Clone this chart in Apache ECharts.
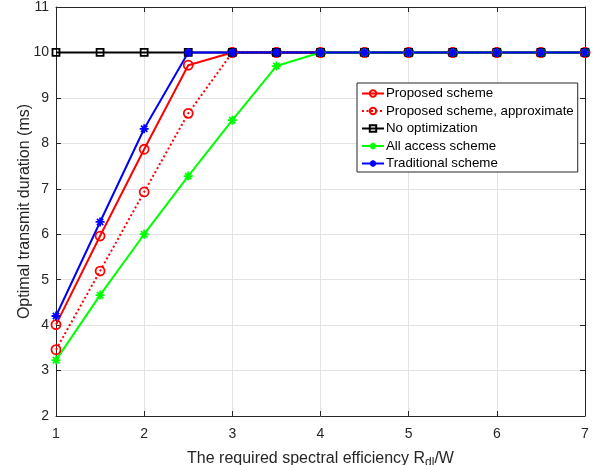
<!DOCTYPE html>
<html>
<head>
<meta charset="utf-8">
<script src="https://cdn.jsdelivr.net/npm/echarts@6/dist/echarts.min.js"></script>
<style>
  html, body { margin: 0; padding: 0; background: #fff; }
  #chart { width: 595px; height: 465px; }
</style>
</head>
<body>
<div id="chart"></div>
<script>
// spectral efficiency samples
var xValues = [1, 1.5, 2, 2.5, 3, 3.5, 4, 4.5, 5, 5.5, 6, 6.5, 7];

var proposed = [4.01, 5.96, 7.87, 9.72, 10, 10, 10, 10, 10, 10, 10, 10, 10];
var approx = [3.46, 5.19, 6.93, 8.66, 10, 10, 10, 10, 10, 10, 10, 10, 10];
var noOpt = [10, 10, 10, 10, 10, 10, 10, 10, 10, 10, 10, 10, 10];
var allAccess = [3.23, 4.66, 6.0, 7.28, 8.51, 9.7, 10, 10, 10, 10, 10, 10, 10];
var traditional = [4.2, 6.27, 8.32, 10, 10, 10, 10, 10, 10, 10, 10, 10, 10];

var xTicks = [1, 2, 3, 4, 5, 6, 7];
var yTicks = [2, 3, 4, 5, 6, 7, 8, 9, 10, 11];

var asterisk = 'path://M0,-10L0,10M-10,0L10,0M-7,-7L7,7M-7,7L7,-7';
var txt = '#262626';
var font = 'Liberation Sans';

function pairs(ys) {
  return xValues.map(function (x, i) { return [x, ys[i]]; });
}

function mkSeries(name, ys, color, symbol, size, dashed) {
  return {
    name: name,
    type: 'line',
    data: pairs(ys),
    symbol: symbol,
    symbolSize: size,
    color: color,
    lineStyle: { color: color, width: 2, type: dashed ? [2, 2.5] : 'solid' },
    itemStyle: { color: 'rgba(0,0,0,0)', borderColor: color, borderWidth: 1.8 },
    emphasis: { disabled: true },
    animation: false
  };
}

var chart = echarts.init(document.getElementById('chart'));

var axisCommon = {
  type: 'value',
  axisLine: { show: true, lineStyle: { color: txt, width: 1 } },
  axisTick: { show: true, inside: true, length: 5, lineStyle: { color: txt } }
};

chart.setOption({
  backgroundColor: '#fff',
  textStyle: { fontFamily: font },
  grid: { left: 56, right: 10, top: 7, bottom: 49, outerBoundsMode: 'none', containLabel: false },
  legend: {
    orient: 'vertical',
    left: 357,
    top: 83,
    padding: [4, 4, 2, 4],
    itemWidth: 22,
    itemHeight: 8,
    itemGap: 4.5,
    borderColor: txt,
    borderWidth: 1,
    backgroundColor: '#fff',
    textStyle: { fontSize: 13.3, color: '#000', fontFamily: font, padding: [0, 0, 0, -3] },
    data: ['Proposed scheme', 'Proposed scheme, approximate', 'No optimization', 'All access scheme', 'Traditional scheme']
  },
  xAxis: [
    Object.assign({}, axisCommon, {
      min: 1, max: 7, interval: 1,
      name: 'The required spectral efficiency R{sub|dl}/W',
      nameLocation: 'middle',
      nameGap: 32,
      nameMoveOverlap: false,
      nameTextStyle: {
        fontSize: 16, color: txt, fontFamily: font,
        rich: { sub: { fontSize: 12, verticalAlign: 'bottom', padding: [9, 0, 0, 0], fontFamily: font, color: txt } }
      },
      axisLabel: { fontSize: 14, color: txt, margin: 11, fontFamily: font },
      splitLine: { show: true, lineStyle: { color: '#e3e3e3' } }
    }),
    Object.assign({}, axisCommon, {
      min: 1, max: 7, interval: 1, position: 'top',
      axisLabel: { show: false },
      splitLine: { show: false }
    })
  ],
  yAxis: [
    Object.assign({}, axisCommon, {
      min: 2, max: 11, interval: 1,
      name: 'Optimal transmit duration (ms)',
      nameLocation: 'middle',
      nameGap: 23,
      nameMoveOverlap: false,
      nameTextStyle: { fontSize: 16, color: txt, fontFamily: font },
      axisLabel: { fontSize: 14, color: txt, margin: 7, fontFamily: font },
      splitLine: { show: true, lineStyle: { color: '#e3e3e3' } }
    }),
    Object.assign({}, axisCommon, {
      min: 2, max: 11, interval: 1, position: 'right',
      axisLabel: { show: false },
      splitLine: { show: false }
    })
  ],
  series: [
    mkSeries('Proposed scheme', proposed, '#ff0000', 'circle', 9, false),
    mkSeries('Proposed scheme, approximate', approx, '#ff0000', 'circle', 9, true),
    mkSeries('No optimization', noOpt, '#000000', 'rect', 7, false),
    mkSeries('All access scheme', allAccess, '#00ff00', asterisk, 9, false),
    mkSeries('Traditional scheme', traditional, '#0000ff', asterisk, 9, false)
  ]
});
</script>
</body>
</html>
